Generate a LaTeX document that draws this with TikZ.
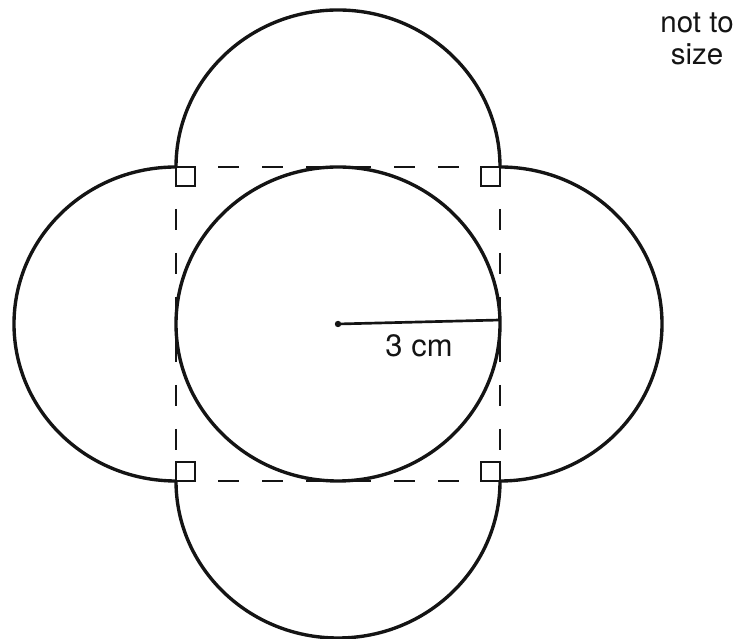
\documentclass[tikz,border=0pt]{standalone}
\usepackage{fontspec}
\setmainfont{TeX Gyre Heros}
\usepackage{tikz}
\usetikzlibrary{calc}
\definecolor{ink}{RGB}{20,20,20}
\tikzset{
  arcline/.style={draw=ink,line width=2.4pt},
  sqedge/.style={draw=ink,line width=1.8pt,dash pattern=on 5.25mm off 5.75mm,dash phase=5.25mm},
  rtmark/.style={draw=ink,line width=1.7pt},
  radline/.style={draw=ink,line width=1.9pt},
  dot/.style={circle,fill=ink,inner sep=0pt,minimum size=1.6mm},
  lbl/.style={font=\fontsize{22}{26}\selectfont,text=ink,inner sep=0pt},
  note/.style={font=\fontsize{21}{23}\selectfont,text=ink,align=center,inner sep=0pt},
}

\begin{document}
\begin{tikzpicture}[x=0.25mm,y=0.25mm]
  \useasboundingbox (0,0) rectangle (743,639);
  % square corners
  \coordinate (tl) at (176,472);
  \coordinate (tr) at (500,472);
  \coordinate (bl) at (176,158);
  \coordinate (br) at (500,158);
  \coordinate (o) at (338,315);
  \coordinate (r) at (500,319);

  % dashed square between the corner marks
  \draw[sqedge] ($(tl)+(19,0)$) -- ($(tr)+(-19,0)$);
  \draw[sqedge] ($(bl)+(19,0)$) -- ($(br)+(-19,0)$);
  \draw[sqedge] ($(tl)+(0,-19)$) -- ($(bl)+(0,19)$);
  \draw[sqedge] ($(tr)+(0,-19)$) -- ($(br)+(0,19)$);

  % right angle marks
  \draw[rtmark] (tl) rectangle ++(19,-19);
  \draw[rtmark] (tr) rectangle ++(-19,-19);
  \draw[rtmark] (bl) rectangle ++(19,19);
  \draw[rtmark] (br) rectangle ++(-19,19);

  % semicircles on the sides
  \draw[arcline] (tl) arc[start angle=180,end angle=0,x radius=162,y radius=157];
  \draw[arcline] (bl) arc[start angle=180,end angle=360,x radius=162,y radius=157];
  \draw[arcline] (tl) arc[start angle=90,end angle=270,x radius=162,y radius=157];
  \draw[arcline] (tr) arc[start angle=90,end angle=-90,x radius=162,y radius=157];

  % inner circle and radius
  \draw[arcline] (o) ellipse[x radius=162,y radius=157];
  \draw[radline] (o) -- (r);
  \node[dot] (ctr) at (o) {};
  \node[lbl] (len) at (419,293) {3 cm};

  \node[note] (ns) at (697,600) {not to\\size};
\end{tikzpicture}
\end{document}
